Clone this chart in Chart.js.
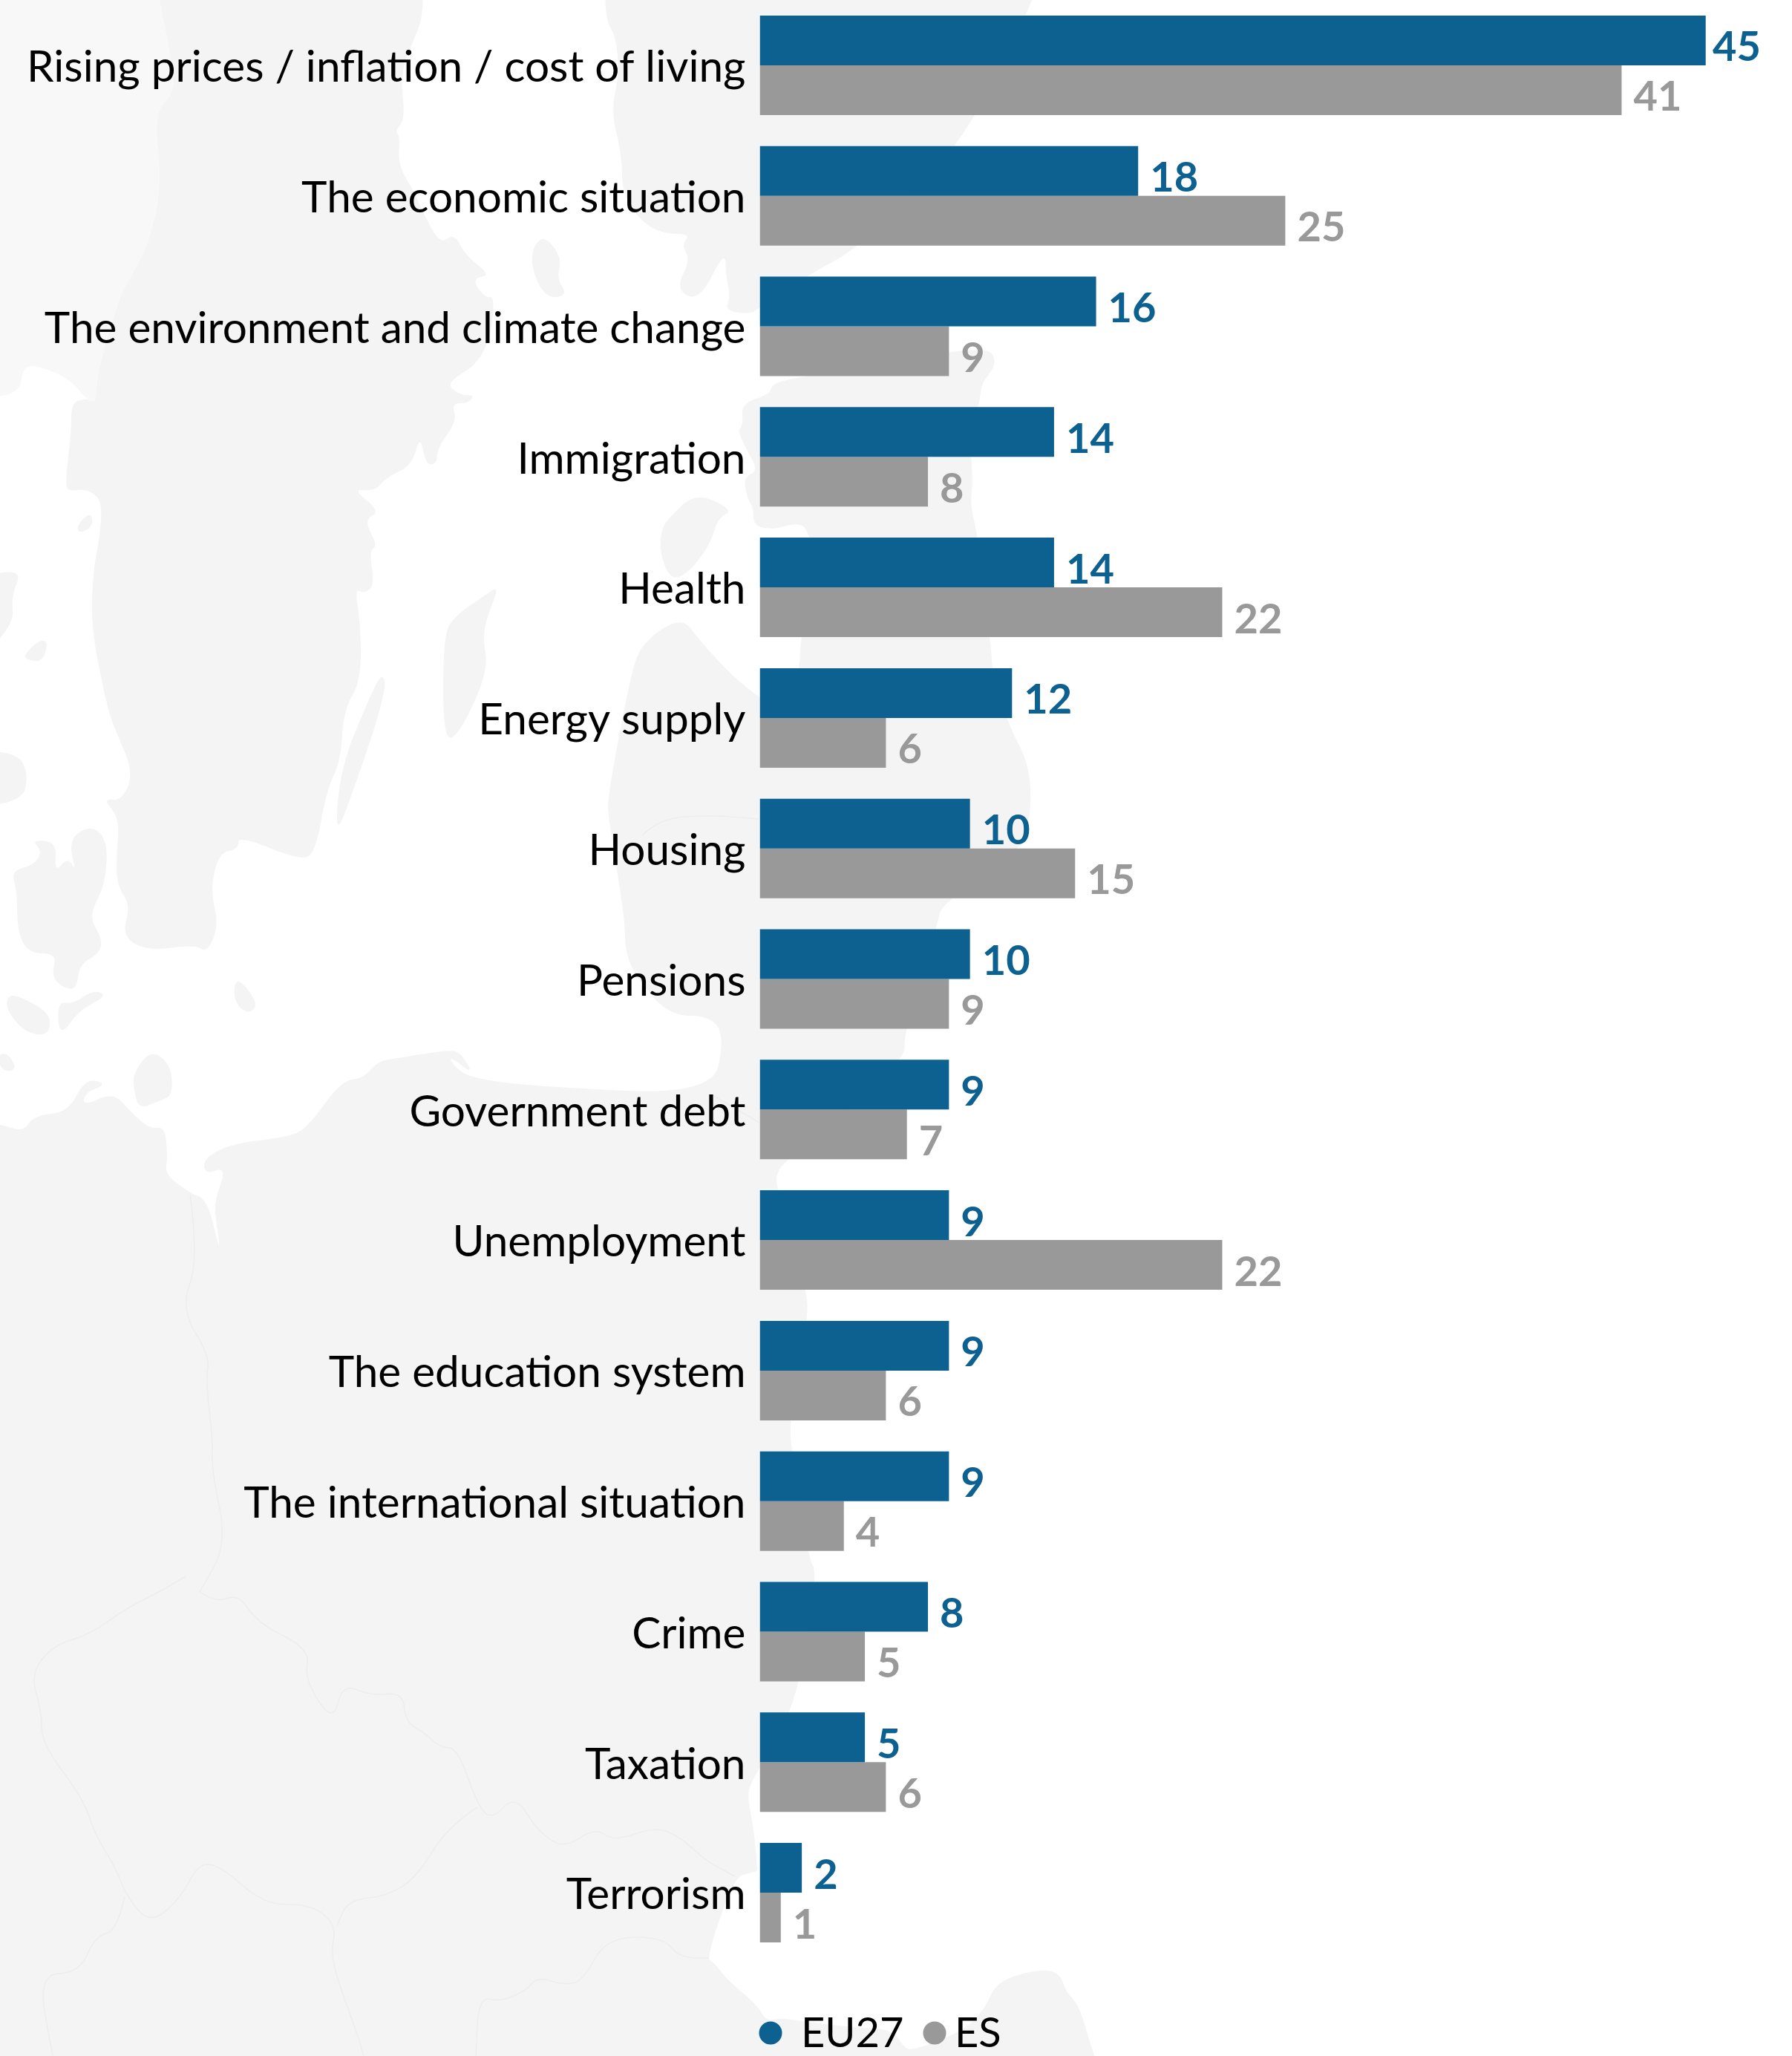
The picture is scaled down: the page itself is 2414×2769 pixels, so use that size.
<!DOCTYPE html>
<html>
<head>
<meta charset="utf-8">
<title>Most important issues</title>
<script src="https://cdn.jsdelivr.net/npm/chart.js@4/dist/chart.umd.min.js"></script>
<style>
    html, body { margin: 0; padding: 0; background: #fff; }
    #chartBox { position: relative; width: 2414px; height: 2769px; }
</style>
</head>
<body>
<div id="chartBox"><canvas id="issuesChart" width="2414" height="2769"></canvas></div>
<script>
const categories = [
    'Rising prices / inflation / cost of living',
    'The economic situation',
    'The environment and climate change',
    'Immigration',
    'Health',
    'Energy supply',
    'Housing',
    'Pensions',
    'Government debt',
    'Unemployment',
    'The education system',
    'The international situation',
    'Crime',
    'Taxation',
    'Terrorism'
];
const eu27Values = [45, 18, 16, 14, 14, 12, 10, 10, 9, 9, 9, 9, 8, 5, 2];
const esValues = [41, 25, 9, 8, 22, 6, 15, 9, 7, 22, 6, 4, 5, 6, 1];

const BLUE = '#0d6191';
const GREY = '#999999';
const LAND = '#f4f4f4';

// background map, outlines
const mapNorway = [[-40,-60],[-40,-50],[197,-60],[207,-40],[230,77],[237,122],[207,153],[218,245],[203,321],[180,367],[161,398],[130,505],[130,543],[115,536],[96,513],[65,497],[31,490],[27,532],[-40,536],[-50,536],[-50,520]];
const mapLand = [
    [[-60,2840],[-60,2830],[-60,1523],[-60,1513],[-50,1513],[0,1513],[31,1525],[46,1502],[92,1498],[115,1452],[145,1460],[115,1471],[111,1490],[153,1471],[176,1498],[203,1521],[222,1517],[226,1559],[222,1582],[260,1609],[270,1611],[281,1625],[290,1660],[294,1675],[296,1680],[292,1650],[288,1620],[306,1571],[275,1582],[275,1559],[314,1540],[383,1532],[413,1521],[459,1456],[490,1452],[509,1429],[536,1425],[604,1414],[620,1417],[639,1448],[604,1421],[612,1437],[635,1452],[719,1463],[960,1475],[976,1395],[956,1368],[903,1368],[861,1322],[842,1284],[842,1238],[819,1100],[819,1071],[849,911],[865,865],[918,830],[941,861],[987,911],[1025,941],[1060,960],[1078,900],[1078,858],[1100,780],[1089,709],[1068,705],[1045,713],[1015,709],[1015,684],[1007,672],[1001,643],[1022,634],[1003,601],[994,580],[1001,572],[999,543],[1038,531],[1040,514],[1130,500],[1329,464],[1344,489],[1321,518],[1321,539],[1305,580],[1311,647],[1307,680],[1317,721],[1336,879],[1336,900],[1359,978],[1386,1028],[1390,1095],[1373,1150],[1268,1217],[1263,1245],[1217,1393],[1220,1428],[1060,1561],[1045,1582],[1047,1600],[1087,1737],[1088,1779],[1063,1919],[1067,1954],[1088,2095],[1102,2122],[1071,2304],[1011,2400],[1007,2420],[1016,2467],[1020,2515],[1020,2520],[1012,2522],[989,2528],[951,2638],[962,2643],[980,2667],[1020,2700],[1032,2722],[1052,2718],[1087,2723],[1145,2730],[1203,2733],[1217,2757],[1230,2762],[1302,2733],[1328,2703],[1342,2670],[1391,2653],[1427,2655],[1436,2683],[1453,2700],[1467,2747],[1495,2830],[1495,2840]],
    [[570,-60],[570,-50],[570,23],[557,54],[539,99],[546,161],[532,176],[539,184],[536,222],[559,260],[570,287],[593,329],[612,314],[627,344],[662,371],[635,375],[654,402],[666,398],[662,451],[643,490],[612,509],[604,520],[620,532],[639,532],[631,543],[608,543],[616,566],[589,604],[589,624],[574,627],[566,585],[555,627],[520,643],[505,662],[474,658],[513,689],[490,700],[509,735],[497,742],[505,788],[490,800],[478,792],[486,842],[486,918],[463,956],[459,1025],[440,1064],[425,1148],[405,1159],[321,1125],[321,1144],[295,1148],[283,1199],[295,1245],[279,1284],[264,1272],[199,1281],[164,1261],[176,1219],[157,1192],[157,1146],[161,1102],[138,1075],[164,1079],[180,1041],[157,987],[145,956],[122,842],[126,765],[134,727],[138,673],[115,658],[92,662],[88,650],[96,581],[96,543],[115,536],[130,543],[130,505],[161,398],[180,367],[203,321],[218,245],[207,153],[237,122],[230,77],[207,-40],[207,-60]],
    [[815,-60],[815,-50],[815,25],[830,50],[834,100],[823,150],[838,210],[838,260],[865,300],[895,315],[930,315],[918,330],[930,350],[910,390],[942,406],[977,336],[978,373],[984,398],[977,419],[1011,423],[1022,415],[1091,369],[1160,332],[1302,190],[1410,-40],[1410,-60]],
    [[719,329],[735,318],[757,348],[750,375],[765,398],[735,402],[715,360]],
    [[930,670],[956,670],[987,689],[968,696],[956,735],[926,773],[903,781],[888,742],[892,708],[910,689]],
    [[673,788],[658,826],[650,857],[658,903],[620,987],[597,999],[597,857],[612,830],[650,804]],
    [[516,903],[520,934],[474,1071],[451,1129],[459,1033],[497,941]],
    [[-40,780],[31,765],[15,803],[19,842],[-40,899]],
    [[34,880],[54,861],[65,865],[57,892],[34,888]],
    [[103,708],[122,689],[126,708],[107,719]],
    [[-40,1010],[23,1014],[38,1041],[31,1079],[-40,1087]],
    [[42,1131],[57,1146],[46,1165],[15,1173],[23,1199],[23,1253],[38,1284],[77,1284],[69,1314],[84,1330],[103,1333],[107,1299],[134,1284],[138,1264],[119,1234],[142,1192],[145,1131],[122,1111],[92,1131],[103,1176],[92,1154],[73,1176],[77,1134]],
    [[8,1360],[11,1337],[42,1349],[69,1368],[65,1395],[34,1391]],
    [[80,1398],[77,1349],[99,1352],[126,1333],[145,1341],[107,1360]],
    [[318,1314],[344,1345],[344,1360],[329,1364],[314,1345]],
    [[-5,1421],[11,1418],[23,1440],[4,1444]],
    [[180,1444],[203,1414],[230,1433],[233,1475],[214,1483],[187,1494],[180,1467]]
];
const mapBorders = [
    [[256,1609],[268,1697],[243,1762],[283,1827],[277,1857],[287,1942],[285,1980],[306,2079],[269,2144]],
    [[250,2123],[219,2142],[168,2167],[122,2201],[71,2216],[41,2255],[56,2304],[56,2348],[112,2422],[128,2471],[153,2510],[173,2559],[204,2591],[245,2554],[267,2510],[296,2512],[357,2566],[418,2564],[454,2593],[444,2637],[480,2735],[490,2769]],
    [[269,2144],[291,2159],[321,2146],[347,2186],[418,2221],[410,2262],[449,2321],[461,2267],[500,2284],[543,2279],[546,2319],[571,2333],[592,2353],[617,2355],[643,2431],[663,2451],[694,2417],[724,2466],[760,2490],[801,2461],[827,2480],[883,2460],[918,2475],[949,2505],[990,2527]],
    [[643,2434],[602,2461],[561,2529],[520,2554],[469,2559],[454,2593]],
    [[168,2554],[158,2600],[128,2608],[107,2657],[51,2659],[71,2769]],
    [[954,2637],[918,2640],[893,2608],[816,2610],[786,2667],[760,2674],[724,2662],[709,2681],[673,2696],[645,2689],[641,2769]],
    [[865,1125],[888,1102],[960,1098],[1022,1103]],
    [[960,1475],[1023,1512]]
];

function traceSmooth(ctx, pts, closed) {
    const mid = (a, b) => [(a[0] + b[0]) / 2, (a[1] + b[1]) / 2];
    ctx.beginPath();
    if (closed) {
        const start = mid(pts[pts.length - 1], pts[0]);
        ctx.moveTo(start[0], start[1]);
        pts.forEach((p, i) => {
            const m = mid(p, pts[(i + 1) % pts.length]);
            ctx.quadraticCurveTo(p[0], p[1], m[0], m[1]);
        });
        ctx.closePath();
    } else {
        ctx.moveTo(pts[0][0], pts[0][1]);
        for (let i = 1; i < pts.length - 1; i++) {
            const m = mid(pts[i], pts[i + 1]);
            ctx.quadraticCurveTo(pts[i][0], pts[i][1], m[0], m[1]);
        }
        const last = pts[pts.length - 1];
        ctx.lineTo(last[0], last[1]);
    }
}

const mapBackground = {
    id: 'mapBackground',
    beforeDraw(chart) {
        const ctx = chart.ctx;
        ctx.save();
        ctx.fillStyle = '#f8f8f8';
        traceSmooth(ctx, mapNorway, true);
        ctx.fill();
        ctx.fillStyle = LAND;
        mapLand.forEach(shape => {
            traceSmooth(ctx, shape, true);
            ctx.fill();
        });
        ctx.strokeStyle = '#ededed';
        ctx.lineWidth = 1.5;
        mapBorders.forEach(line => {
            traceSmooth(ctx, line, false);
            ctx.stroke();
        });
        ctx.restore();
    }
};

// value labels beside the bars, pushed back when they would run off the right side
const barLabels = {
    id: 'barLabels',
    afterDatasetsDraw(chart) {
        const ctx = chart.ctx;
        ctx.save();
        ctx.font = 'bold 56px Lato';
        ctx.textAlign = 'left';
        ctx.textBaseline = 'middle';
        chart.data.datasets.forEach((dataset, i) => {
            ctx.fillStyle = dataset.backgroundColor;
            chart.getDatasetMeta(i).data.forEach((bar, j) => {
                const text = String(dataset.data[j]);
                const x = Math.min(bar.x + 16, 2372 - ctx.measureText(text).width);
                ctx.fillText(text, x, bar.y + 10);
            });
        });
        ctx.restore();
    }
};

const dotLegend = {
    id: 'dotLegend',
    afterDraw(chart) {
        const ctx = chart.ctx;
        const items = [
            { dotX: 1038, textX: 1079 },
            { dotX: 1259, textX: 1286 }
        ];
        ctx.save();
        ctx.font = '56px Lato';
        ctx.textAlign = 'left';
        ctx.textBaseline = 'middle';
        chart.data.datasets.forEach((dataset, i) => {
            ctx.fillStyle = dataset.backgroundColor;
            ctx.beginPath();
            ctx.arc(items[i].dotX, 2738, 15.5, 0, Math.PI * 2);
            ctx.fill();
            ctx.fillStyle = '#000';
            ctx.fillText(dataset.label, items[i].textX, 2739);
        });
        ctx.restore();
    }
};

new Chart(document.getElementById('issuesChart'), {
    type: 'bar',
    data: {
        labels: categories,
        datasets: [
            { label: 'EU27', data: eu27Values, backgroundColor: BLUE },
            { label: 'ES', data: esValues, backgroundColor: GREY }
        ]
    },
    options: {
        indexAxis: 'y',
        responsive: false,
        animation: false,
        devicePixelRatio: 1,
        layout: { padding: { top: 0, right: 3, bottom: 132, left: 0 } },
        datasets: { bar: { categoryPercentage: 0.762, barPercentage: 1 } },
        plugins: {
            legend: { display: false },
            tooltip: { enabled: false }
        },
        scales: {
            x: {
                display: false,
                min: 0,
                max: 49
            },
            y: {
                afterFit: scale => {
                    scale.width = 1023.5;
                    scale.paddingTop = 0;
                    scale.paddingBottom = 0;
                },
                grid: { display: false, drawTicks: false },
                border: { display: false },
                ticks: {
                    autoSkip: false,
                    padding: 19,
                    labelOffset: 3.5,
                    color: '#000',
                    font: { family: 'Lato', size: 58.5 }
                }
            }
        }
    },
    plugins: [mapBackground, barLabels, dotLegend]
});
</script>
</body>
</html>
